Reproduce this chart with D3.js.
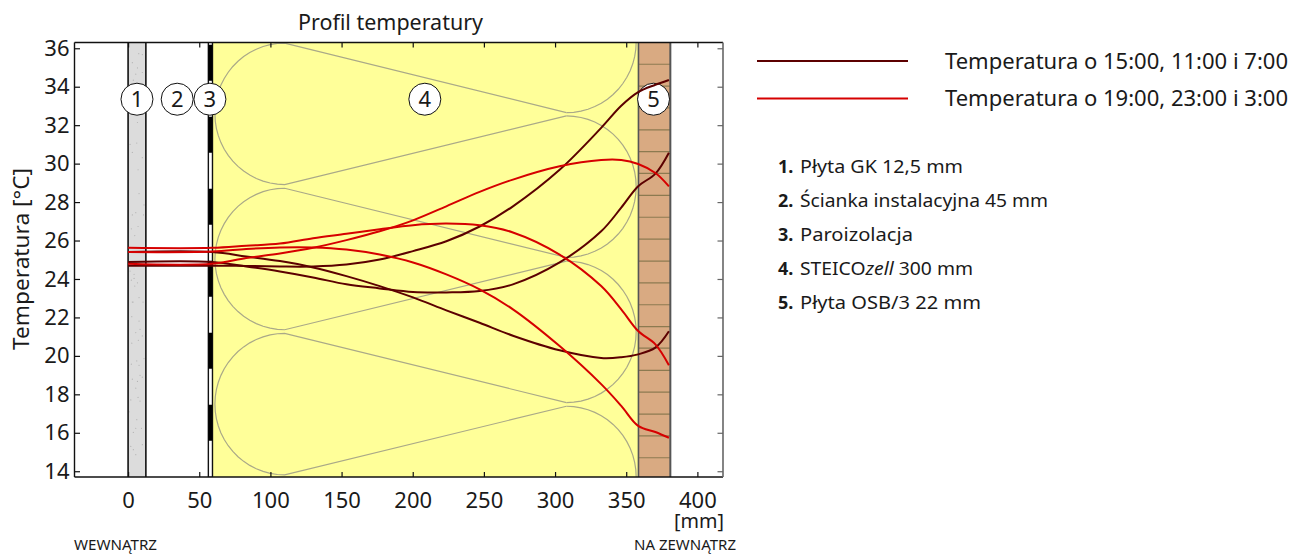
<!DOCTYPE html>
<html><head><meta charset="utf-8">
<script src="https://cdnjs.cloudflare.com/ajax/libs/d3/7.8.5/d3.min.js"></script>
<style>html,body{margin:0;padding:0;background:#fff}svg{display:block}text{font-family:"Noto Sans",sans-serif;fill:#1a1a1a}</style>
</head><body><svg id="c" width="1293" height="554"></svg>
<script>
const xTicks=[0,50,100,150,200,250,300,350,400];
const yTicks=[14,16,18,20,22,24,26,28,30,32,34,36];
const positionsMm=[0,59,83,106.7,130,153.4,176.8,200.2,223.6,247,270.4,303.2,332.4,346.5,358.4,370.5,380];
const dark1=[24.69,24.69,24.68,24.65,24.65,24.75,25.01,25.45,25.96,26.73,27.78,29.68,31.86,33.01,33.72,34.10,34.35];
const dark2=[24.88,24.88,24.65,24.39,24.08,23.72,23.51,23.32,23.30,23.37,23.72,24.86,26.48,27.71,28.82,29.48,30.57];
const dark3=[25.40,25.40,25.17,24.93,24.60,24.15,23.63,23.04,22.37,21.72,21.05,20.29,19.89,19.93,20.08,20.43,21.28];
const red1=[25.62,25.62,25.73,25.84,26.12,26.35,26.59,26.80,26.88,26.79,26.42,25.27,23.63,22.42,21.29,20.60,19.51];
const red2=[25.40,25.43,25.56,25.64,25.64,25.53,25.27,24.86,24.24,23.46,22.42,20.51,18.53,17.40,16.36,16.04,15.74];
const red3=[24.79,24.79,25.09,25.33,25.62,26.02,26.48,27.05,27.78,28.53,29.17,29.86,30.19,30.19,29.98,29.51,28.82];
const legendLabels=["Temperatura o 15:00, 11:00 i 7:00","Temperatura o 19:00, 23:00 i 3:00"];
const layerNums=["1.","2.","3.","4.","5."];
const layerNames=["Płyta GK 12,5 mm","Ścianka instalacyjna 45 mm","Paroizolacja",null,"Płyta OSB/3 22 mm"];
const markerLabels=["1","2","3","4","5"];
const markerMm=[6.25,34.5,57.5,208.5,369.2];
const woodLinesT=[35.17,34.03,32.90,31.76,30.62,29.49,28.35,27.21,26.07,24.93,23.80,22.66,21.52,20.40,19.25,18.11,16.97,15.84,14.70];
const speckleMm=[7.5,10,3,6.6,10,5.4,3.7,6.6,1.4,6.1,3,10,7,7.7,11.2,5.4,3,10.8,2.3,7,4.7,1.4,4.2,2.3,4.2,6.6,4.7,3,2.6,7.7,7.7,3.5,10.5,8.4,5.4,10,7.2,2.6,11.2,6.1,7.7,2.3,8.4,10,3,6.6,5.4,1.9,7,8.4,0.7,6.1,9.4,5.4,3.7,10,1.9,3.7,5.4];
const speckleT=[35.72,35.67,35.25,34.98,34.74,34.65,34.34,32.14,31.0,31.07,30.58,30.31,29.68,28.44,27.85,27.45,27.33,27.33,26.61,26.73,26.26,24.41,24.24,23.94,24.03,23.80,23.63,22.80,22.04,21.81,23.03,22.80,22.80,21.38,21.21,21.04,20.81,20.66,19.86,19.74,19.51,19.57,18.99,18.89,18.79,18.67,18.32,17.71,17.84,17.65,17.09,16.68,16.23,16.23,16.02,15.38,15.29,15.12,14.86];
const leftLoopT=[32.59,25.04,17.49];
const rightLoopT=[36.33,28.80,21.25,13.70];
const loopRx=49, loopRy=3.68, loopLeftMm=110, loopRightMm=308;

const svg=d3.select("#c");
const L=74.5,R=723,T=42.5,B=477;
const x=d3.scaleLinear().domain([-37.65,418]).range([L,R]);
const y=d3.scaleLinear().domain([36.3,13.7]).range([T,B]);
svg.append("defs").append("clipPath").attr("id","pl").append("rect").attr("x",L).attr("y",T).attr("width",R-L).attr("height",B-T);
const g=svg.append("g").attr("clip-path","url(#pl)");
function band(a,b,f){return g.append("rect").attr("x",x(a)).attr("width",x(b)-x(a)).attr("y",T).attr("height",B-T).attr("fill",f);}
const woodL=358.6, woodR=381;
band(59.3,woodL,"#ffff99");
band(woodL,woodR,"#d9aa82");
band(0,12.5,"#dcdcdc");
g.selectAll("circle.sp").data(speckleMm).join("circle").attr("cx",d=>x(d)).attr("cy",(d,i)=>y(speckleT[i])).attr("r",0.6).attr("fill","#b4b4b4");
g.selectAll("line.w").data(woodLinesT).join("line").attr("x1",x(woodL)).attr("x2",x(woodR)).attr("y1",d=>y(d)).attr("y2",d=>y(d)).attr("stroke","#8c7a50").attr("stroke-width",1.2);
// insulation serpentine
const ln=d3.line().x(d=>x(d[0])).y(d=>y(d[1]));
const angles=d3.range(0,181,6);
const ins=g.append("g").attr("fill","none").attr("stroke","#aaa988").attr("stroke-width",1.2);
leftLoopT.forEach((c,i)=>{
  const pts=[[loopRightMm,rightLoopT[i]-loopRy]];
  angles.forEach(a=>{const t=a*Math.PI/180;pts.push([loopLeftMm-loopRx*Math.sin(t),c+loopRy*Math.cos(t)]);});
  pts.push([loopRightMm,rightLoopT[i+1]+loopRy]);
  ins.append("path").attr("d",ln(pts));
});
rightLoopT.forEach(c=>{
  const pts=angles.map(a=>{const t=a*Math.PI/180;return [loopRightMm+loopRx*Math.sin(t),c+loopRy*Math.cos(t)];});
  ins.append("path").attr("d",ln(pts));
});
// vertical layer outlines
[[0,"#111",1.6],[12.5,"#111",1.6],[56.4,"#111",1.4],[59.3,"#111",1.4],[woodL,"#555",1.6],[woodR,"#555",2]].forEach(d=>{
  g.append("line").attr("x1",x(d[0])).attr("x2",x(d[0])).attr("y1",T).attr("y2",B).attr("stroke",d[1]).attr("stroke-width",d[2]);
});
// vapour barrier dashes
g.append("line").attr("x1",x(57.8)).attr("x2",x(57.8)).attr("y1",B).attr("y2",T).attr("stroke","#000").attr("stroke-width",4).attr("stroke-dasharray","36 36").attr("stroke-dashoffset",-36.3);

// axes
const ax=svg.append("g");
const axB=ax.append("g").attr("transform",`translate(0,${B})`).call(d3.axisBottom(x).tickValues(xTicks).tickFormat(d3.format("d")).tickSize(-5).tickPadding(15));
const axT=ax.append("g").attr("transform",`translate(0,${T})`).call(d3.axisTop(x).tickValues(xTicks).tickFormat("").tickSize(-5));
const axL=ax.append("g").attr("transform",`translate(${L},0)`).call(d3.axisLeft(y).tickValues(yTicks).tickFormat(d3.format("d")).tickSize(-5.5).tickPadding(5));
const axR=ax.append("g").attr("transform",`translate(${R},0)`).call(d3.axisRight(y).tickValues(yTicks).tickFormat("").tickSize(-5.5));
[axB,axT,axL].forEach(a=>{a.selectAll("path.domain").remove();a.selectAll("line").attr("stroke","#111").attr("stroke-width",1.2);});
axR.selectAll("path.domain").remove();axR.selectAll("line").attr("stroke","#666").attr("stroke-width",1.2);
[[L,T,R,T,"#111"],[L,B,R,B,"#111"],[L,T,L,B,"#111"],[R,T,R,B,"#666"]].forEach(d=>{
  ax.append("line").attr("x1",d[0]).attr("y1",d[1]).attr("x2",d[2]).attr("y2",d[3]).attr("stroke",d[4]).attr("stroke-width",d[4]=="#666"?1.6:1.4);
});
ax.selectAll("g.tick text").attr("font-size",22).attr("font-family",'"Noto Sans",sans-serif').attr("fill","#1a1a1a");

// markers
const mk=svg.append("g");
const my=y(33.35);
markerLabels.forEach((s,i)=>{
  mk.append("circle").attr("cx",x(markerMm[i])).attr("cy",my).attr("r",16).attr("fill","#fff").attr("stroke","#111").attr("stroke-width",1);
  mk.append("text").attr("x",x(markerMm[i])).attr("y",my+8).attr("text-anchor","middle").attr("font-size",22).text(s);
});
// curves
const curve=d3.line().x((d,i)=>x(positionsMm[i])).y(d=>y(d)).curve(d3.curveCatmullRom.alpha(0.5));
const series=[[dark1,"#5c0000"],[dark2,"#5c0000"],[dark3,"#5c0000"],[red1,"#d60000"],[red2,"#d60000"],[red3,"#d60000"]];
series.forEach(s=>svg.append("path").attr("d",curve(s[0])).attr("fill","none").attr("stroke",s[1]).attr("stroke-width",2));

// text
function tx(xx,yy,s,fs,anchor,w){return svg.append("text").attr("x",xx).attr("y",yy).attr("font-size",fs).attr("text-anchor",anchor||"start").text(s).call(t=>{if(w)t.attr("textLength",w).attr("lengthAdjust","spacingAndGlyphs");});}
tx(390.5,30,"Profil temperatury",21,"middle",185);
svg.append("text").attr("transform","translate(29,259) rotate(-90)").attr("text-anchor","middle").attr("font-size",21).attr("textLength",182).attr("lengthAdjust","spacingAndGlyphs").text("Temperatura  [°C]");
tx(724,528,"[mm]",20,"end",50);
tx(74,549.5,"WEWNĄTRZ",13.5,"start",83);
tx(634,549.5,"NA ZEWNĄTRZ",13.5,"start",102);
// legend
[[61,"#5c0000"],[98.5,"#d60000"]].forEach((d,i)=>{
  svg.append("line").attr("x1",757).attr("x2",908).attr("y1",d[0]).attr("y2",d[0]).attr("stroke",d[1]).attr("stroke-width",2);
  tx(945,d[0]+7.5,legendLabels[i],21,"start",343);
});
const rowY=d3.scalePoint().domain(d3.range(5)).range([173,309]);
const nameW=[163,248,113,null,181];
layerNums.forEach((n,i)=>{
  tx(778,rowY(i),n,18).attr("font-weight",700);
  if(layerNames[i]) tx(800,rowY(i),layerNames[i],18,"start",nameW[i]);
  else {
    const t=tx(800,rowY(i),"STEICO",18);
    t.append("tspan").attr("font-style","italic").text("zell");
    t.append("tspan").text(" 300 mm");
    t.attr("textLength",173).attr("lengthAdjust","spacingAndGlyphs");
  }
});
</script></body></html>
